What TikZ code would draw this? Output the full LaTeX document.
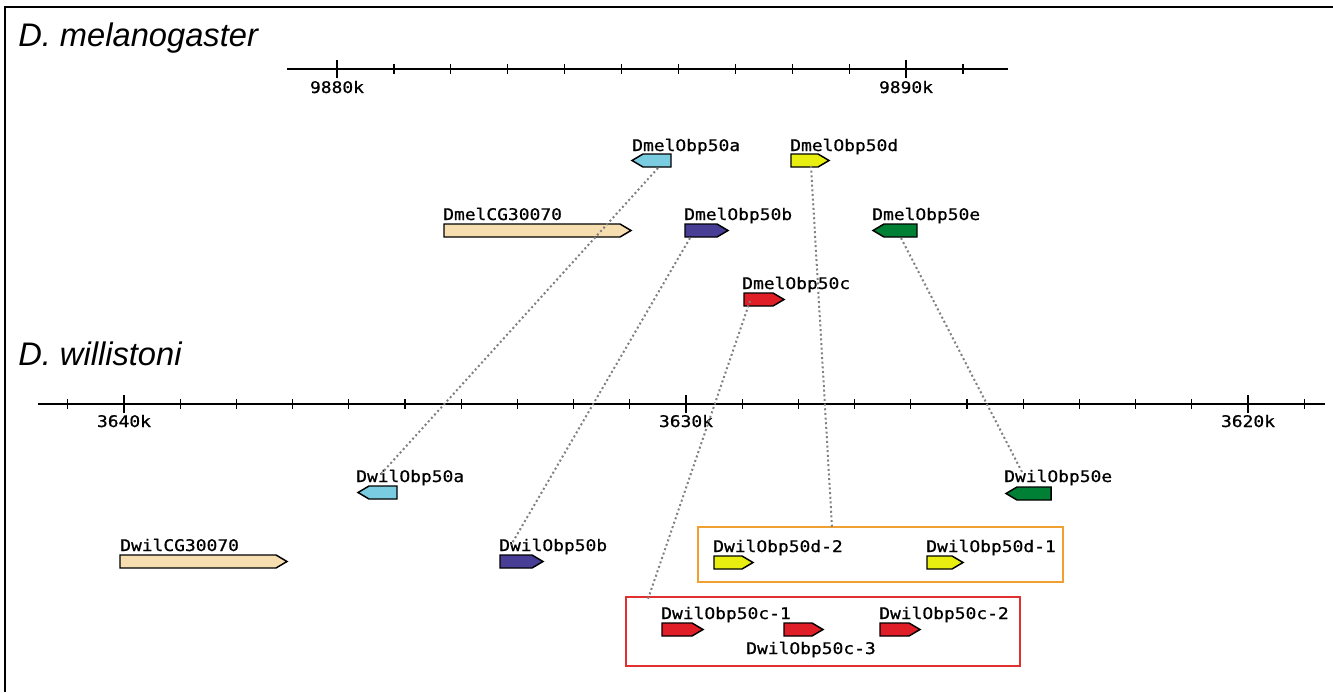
\documentclass[tikz,border=0pt]{standalone}
\usepackage{fontspec}
\newfontfamily\genefont[FakeStretch=1.12,FakeBold=0.8]{DejaVu Sans Mono}
\newfontfamily\specfont{Liberation Sans}
\definecolor{glblue}{RGB}{122,204,224}
\definecolor{gyellow}{RGB}{232,238,16}
\definecolor{gtan}{RGB}{246,222,176}
\definecolor{gdblue}{RGB}{72,62,150}
\definecolor{ggreen}{RGB}{0,128,52}
\definecolor{gred}{RGB}{224,30,40}
\definecolor{borange}{RGB}{240,160,48}
\definecolor{bred}{RGB}{224,48,48}
\newcommand\arrR[5]{% name, x1, x2, ytop, colour
  \draw[genebox, fill=#5] (#2,#4) -- ({#3-11},#4) -- (#3,{#4+6.5}) -- ({#3-11},{#4+13}) -- (#2,{#4+13}) -- cycle;
  \coordinate (#1) at ({(#2+#3)/2},{#4+6.5});}
\newcommand\arrL[5]{%
  \draw[genebox, fill=#5] (#3,#4) -- ({#2+11},#4) -- (#2,{#4+6.5}) -- ({#2+11},{#4+13}) -- (#3,{#4+13}) -- cycle;
  \coordinate (#1) at ({(#2+#3)/2},{#4+6.5});}
\begin{document}
\begin{tikzpicture}[x=0.75pt,y=-0.75pt,
  genebox/.style={draw=black, line width=1.1pt, line join=miter},
  lab/.style={anchor=base west, inner sep=0pt, font=\fontsize{12}{13}\genefont},
  ticklab/.style={anchor=base, inner sep=0pt, font=\fontsize{12}{13}\genefont},
  species/.style={anchor=base west, inner sep=0pt, font=\fontsize{24.5}{28}\specfont\itshape},
  axisline/.style={line width=1.8pt},
  majortick/.style={line width=1pt},
  minortick/.style={line width=0.9pt},
  link/.style={draw=gray, line width=1.5pt, dotted},
  groupbox/.style={line width=1.2pt}]
\useasboundingbox (0,0) rectangle (1333,692);
% frame
\draw[line width=1.1pt] (5,692) -- (5,7) -- (1333,7);
% species
\node[species] (spA) at (18,47) {D. melanogaster};
\node[species] (spB) at (18,365) {D. willistoni};
% top axis
\draw[axisline] (287,69) -- (1008,69);
\foreach \i in {0,...,11} {
  \pgfmathsetmacro\xx{337+56.9*\i}
  \ifnum\i=0 \draw[majortick] (\xx,60) -- (\xx,78);
  \else\ifnum\i=10 \draw[majortick] (\xx,60) -- (\xx,78);
  \else \draw[minortick] (\xx,64) -- (\xx,74); \fi\fi
}
\node[ticklab] (t1) at (337,93) {9880k};
\node[ticklab] (t2) at (906,93) {9890k};
% bottom axis
\draw[axisline] (38,404) -- (1325,404);
\foreach \i in {0,...,22} {
  \pgfmathsetmacro\xx{67.8+56.2*\i}
  \ifnum\i=1 \draw[majortick] (\xx,395) -- (\xx,413);
  \else\ifnum\i=11 \draw[majortick] (\xx,395) -- (\xx,413);
  \else\ifnum\i=21 \draw[majortick] (\xx,395) -- (\xx,413);
  \else \draw[minortick] (\xx,399) -- (\xx,409); \fi\fi\fi
}
\node[ticklab] (b1) at (124,427) {3640k};
\node[ticklab] (b2) at (686,427) {3630k};
\node[ticklab] (b3) at (1248,427) {3620k};
% group boxes
\draw[groupbox, draw=borange] (698,527) rectangle (1063,582);
\draw[groupbox, draw=bred] (626,597) rectangle (1020,666);
\coordinate (orangetop) at (832,527);
\coordinate (redtop) at (648,599);
% D. melanogaster genes
\arrL{DmeA}{632}{671}{154}{glblue}
\node[lab] (lDmeA) at (632,151) {DmelObp50a};
\arrR{DmeD}{791}{829}{154}{gyellow}
\node[lab] (lDmeD) at (790,151) {DmelObp50d};
\arrR{DmeCG}{444}{631}{224}{gtan}
\node[lab] (lDmeCG) at (443,220) {DmelCG30070};
\arrR{DmeB}{685}{728}{224}{gdblue}
\node[lab] (lDmeB) at (684,220) {DmelObp50b};
\arrL{DmeE}{873}{917}{224}{ggreen}
\node[lab] (lDmeE) at (872,220) {DmelObp50e};
\arrR{DmeC}{744}{784}{293}{gred}
\node[lab] (lDmeC) at (742,289) {DmelObp50c};
% D. willistoni genes
\arrL{DwiA}{358}{397}{486}{glblue}
\node[lab] (lDwiA) at (356,482) {DwilObp50a};
\arrL{DwiE}{1006}{1051}{487}{ggreen}
\node[lab] (lDwiE) at (1004,482) {DwilObp50e};
\arrR{DwiCG}{120}{287}{555}{gtan}
\node[lab] (lDwiCG) at (120,551) {DwilCG30070};
\arrR{DwiB}{500}{543}{555}{gdblue}
\node[lab] (lDwiB) at (499,551) {DwilObp50b};
\arrR{DwiD2}{714}{753}{556}{gyellow}
\node[lab] (lDwiD2) at (713,552) {DwilObp50d-2};
\arrR{DwiD1}{927}{963}{556}{gyellow}
\node[lab] (lDwiD1) at (926,552) {DwilObp50d-1};
\arrR{DwiC1}{662}{703}{623}{gred}
\node[lab] (lDwiC1) at (661,619) {DwilObp50c-1};
\arrR{DwiC3}{784}{823}{623}{gred}
\node[lab] (lDwiC3) at (746,654) {DwilObp50c-3};
\arrR{DwiC2}{880}{920}{623}{gred}
\node[lab] (lDwiC2) at (879,619) {DwilObp50c-2};
% connector end points
\coordinate (sA) at (658,168);
\coordinate (eA) at (381,474);
\coordinate (sB) at (690,238);
\coordinate (eB) at (511,545);
\coordinate (sC) at (750,301);
\coordinate (sD) at (811,166);
\coordinate (sE) at (901,238);
\coordinate (eE) at (1022,472);
\draw[link] (sA) -- (eA);
\draw[link] (sB) -- (eB);
\draw[link] (sC) -- (redtop);
\draw[link] (sD) -- (orangetop);
\draw[link] (sE) -- (eE);
\end{tikzpicture}
\end{document}
